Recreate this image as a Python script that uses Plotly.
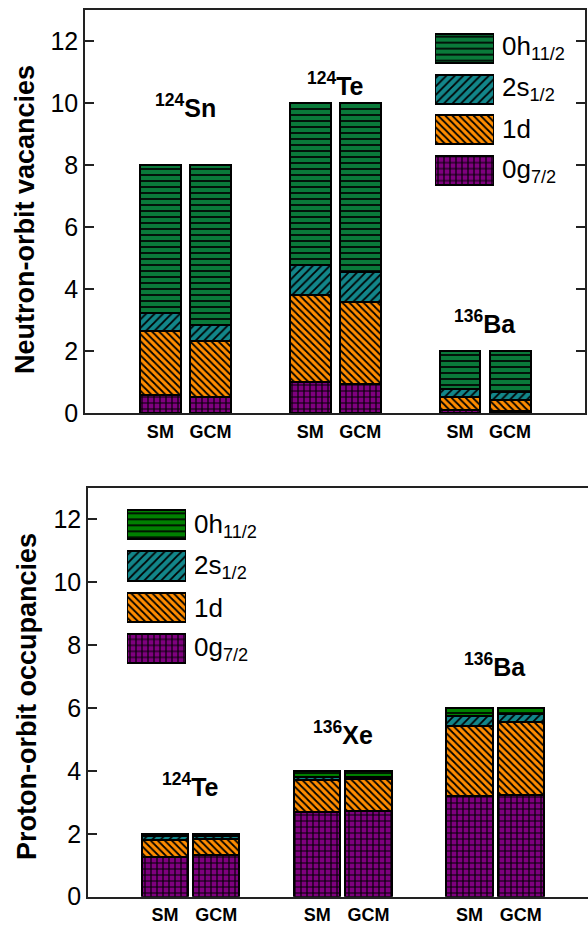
import plotly.graph_objects as go

W, H = 588, 926

# ---------------- data ----------------
methods = ["SM", "GCM"]
orbits = ["0g7/2", "1d", "2s1/2", "0h11/2"]   # stacking order bottom -> top
orbit_labels = ["0h<sub>11/2</sub>", "2s<sub>1/2</sub>", "1d", "0g<sub>7/2</sub>"]  # legend order top -> bottom

# Neutron-orbit vacancies: nuclei 124Sn, 124Te, 136Ba ; each (SM, GCM)
n_nuclei = ["<sup>124</sup>Sn", "<sup>124</sup>Te", "<sup>136</sup>Ba"]
n_0g = [0.57, 0.52, 1.00, 0.95, 0.09, 0.05]
n_1d = [2.07, 1.81, 2.80, 2.64, 0.43, 0.38]
n_2s = [0.60, 0.50, 0.97, 0.97, 0.25, 0.25]
n_0h = [4.76, 5.17, 5.23, 5.44, 1.23, 1.32]
n_label_y = [9.9, 10.6, 2.95]

# Proton-orbit occupancies: nuclei 124Te, 136Xe, 136Ba ; each (SM, GCM)
p_nuclei = ["<sup>124</sup>Te", "<sup>136</sup>Xe", "<sup>136</sup>Ba"]
p_0g = [1.27, 1.32, 2.70, 2.73, 3.20, 3.23]
p_1d = [0.53, 0.50, 1.02, 1.00, 2.24, 2.33]
p_2s = [0.12, 0.11, 0.08, 0.08, 0.30, 0.24]
p_0h = [0.08, 0.07, 0.20, 0.19, 0.26, 0.20]
p_label_y = [3.55, 5.2, 7.37]

y_titles = ["Neutron-orbit vacancies", "Proton-orbit occupancies"]

# ---------------- styles ----------------
FONT = "Arial, Liberation Sans, sans-serif"
top_colors = {"0h11/2": "#0a7a3a", "2s1/2": "#12868a", "1d": "#ff8c00", "0g7/2": "#7f007f"}
bot_colors = {"0h11/2": "#008000", "2s1/2": "#12868a", "1d": "#ff8c00", "0g7/2": "#7f007f"}
patterns = {"0h11/2": ("-", 6, 0.28), "2s1/2": ("/", 6, 0.3),
            "1d": ("\\", 5, 0.35), "0g7/2": ("+", 6, 0.35)}


def px_x(p):
    return p / W


def px_y(p):
    return 1 - p / H


def marker(orb, colors):
    shape, size, sol = patterns[orb]
    return dict(color=colors[orb],
                line=dict(color="black", width=2),
                pattern=dict(shape=shape, size=size, solidity=sol,
                             fgcolor="black", bgcolor=colors[orb], fillmode="replace"))


fig = go.Figure()

panels = [
    dict(xa="x", ya="y", vals=[n_0g, n_1d, n_2s, n_0h], colors=top_colors, nuclei=n_nuclei,
         label_y=n_label_y, off=0.167, width=0.273, title=y_titles[0], tx=25, ty=220),
    dict(xa="x2", ya="y2", vals=[p_0g, p_1d, p_2s, p_0h], colors=bot_colors, nuclei=p_nuclei,
         label_y=p_label_y, off=0.168, width=0.303, title=y_titles[1], tx=27, ty=697),
]

groups = [1, 2, 3]
for pn in panels:
    xs = []
    for g in groups:
        xs += [g - pn["off"], g + pn["off"]]
    for orb, v in zip(orbits, pn["vals"]):
        fig.add_trace(go.Bar(x=xs, y=v, width=pn["width"], marker=marker(orb, pn["colors"]),
                             xaxis=pn["xa"], yaxis=pn["ya"], showlegend=False))
    pn["xs"] = xs
    for g, name, ly in zip(groups, pn["nuclei"], pn["label_y"]):
        fig.add_annotation(x=g, y=ly, xref=pn["xa"], yref=pn["ya"], text="<b>" + name + "</b>",
                           showarrow=False, font=dict(family=FONT, size=25, color="black"),
                           yanchor="middle")
    # y-axis title
    fig.add_annotation(x=px_x(pn["tx"]), y=px_y(pn["ty"]), xref="paper", yref="paper",
                       text="<b>" + pn["title"] + "</b>", textangle=-90, showarrow=False,
                       xanchor="center", yanchor="middle",
                       font=dict(family=FONT, size=27, color="black"))

# ---------------- custom legends (pattern swatches on small hidden axes) ----------------
legend_specs = [
    dict(xa="x3", ya="y3", x0=435, x1=494, yc0=48, step=40.7, colors=top_colors, tx=500),
    dict(xa="x4", ya="y4", x0=127, x1=186, yc0=525, step=41.3, colors=bot_colors, tx=192),
]
legend_orbits = ["0h11/2", "2s1/2", "1d", "0g7/2"]
for ls in legend_specs:
    for i, orb in enumerate(legend_orbits):
        fig.add_trace(go.Bar(x=[1], y=[i], base=0, orientation="h", width=0.71,
                             marker=marker(orb, ls["colors"]), xaxis=ls["xa"], yaxis=ls["ya"],
                             showlegend=False))
        fig.add_annotation(x=ls["tx"] / W, y=px_y(ls["yc0"] + i * ls["step"]), xref="paper", yref="paper",
                           text=orbit_labels[i], showarrow=False, xanchor="left", yanchor="middle",
                           font=dict(family=FONT, size=26, color="black"))

axis_common = dict(showline=True, linecolor="#222", linewidth=1.6, showgrid=False, zeroline=False,
                   automargin=False)

top_y0, top_y1 = 10, 413
bot_y0, bot_y1 = 488, 896.7

fig.update_layout(
    width=W, height=H, margin=dict(l=0, r=0, t=0, b=0, autoexpand=False),
    paper_bgcolor="white", plot_bgcolor="white", barmode="stack", bargap=0,
    font=dict(family=FONT, color="black"),
    xaxis=dict(domain=[px_x(85), px_x(585)], range=[0.33, 3.667], anchor="y",
               tickvals=panels[0]["xs"], ticktext=methods * 3, ticks="", mirror=True,
               tickfont=dict(family=FONT, size=18, weight="bold"), ticklabelstandoff=2, **axis_common),
    yaxis=dict(domain=[px_y(top_y1), px_y(top_y0)], range=[0, 13], anchor="x",
               tickvals=[0, 2, 4, 6, 8, 10, 12], ticks="inside", ticklen=9, tickwidth=1.5, tickcolor="#222",
               mirror="ticks", tickfont=dict(family=FONT, size=25), **axis_common),
    xaxis2=dict(domain=[px_x(88), 1], range=[0.326, 3.61], anchor="y2",
                tickvals=panels[1]["xs"], ticktext=methods * 3, ticks="", mirror=True,
                tickfont=dict(family=FONT, size=18, weight="bold"), ticklabelstandoff=1, **axis_common),
    yaxis2=dict(domain=[px_y(bot_y1), px_y(bot_y0)], range=[0, 13], anchor="x2",
                tickvals=[0, 2, 4, 6, 8, 10, 12], ticks="inside", ticklen=9, tickwidth=1.5, tickcolor="#222",
                tickfont=dict(family=FONT, size=25), **axis_common),
)

for ls in legend_specs:
    n = len(legend_orbits)
    ytop = ls["yc0"] - ls["step"] / 2
    ybot = ls["yc0"] + (n - 0.5) * ls["step"]
    fig.update_layout(**{
        ("xaxis" + ls["xa"][1:]): dict(domain=[px_x(ls["x0"]), px_x(ls["x1"])], range=[0, 1],
                                       visible=False, anchor=ls["ya"], fixedrange=True),
        ("yaxis" + ls["ya"][1:]): dict(domain=[px_y(ybot), px_y(ytop)], range=[n - 0.5, -0.5],
                                       visible=False, anchor=ls["xa"], fixedrange=True),
    })

fig.write_html("out.html")
